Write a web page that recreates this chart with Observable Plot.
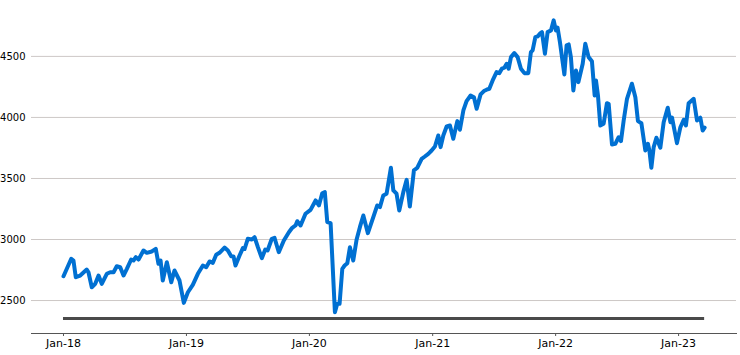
<!DOCTYPE html>
<html>
<head>
<meta charset="utf-8">
<script src="https://cdn.jsdelivr.net/npm/d3@7"></script>
<script src="https://cdn.jsdelivr.net/npm/@observablehq/plot@0.6"></script>
<style>
  html, body { margin: 0; padding: 0; background: #fff; }
</style>
</head>
<body>
<div id="chart"></div>
<script>
// Time, as decimal years
const years = [
  2018.000, 2018.063, 2018.081, 2018.100, 2018.136, 2018.189, 2018.203, 2018.230, 2018.258, 2018.285,
  2018.311, 2018.352, 2018.380, 2018.407, 2018.433, 2018.461, 2018.488, 2018.515, 2018.550, 2018.569,
  2018.588, 2018.610, 2018.650, 2018.677, 2018.718, 2018.750, 2018.772, 2018.789, 2018.807, 2018.840,
  2018.876, 2018.902, 2018.943, 2018.978, 2019.011, 2019.051, 2019.092, 2019.133, 2019.160, 2019.187,
  2019.214, 2019.241, 2019.268, 2019.309, 2019.336, 2019.363, 2019.382, 2019.398, 2019.431, 2019.458,
  2019.472, 2019.498, 2019.531, 2019.553, 2019.580, 2019.612, 2019.640, 2019.659, 2019.693, 2019.715,
  2019.750, 2019.791, 2019.832, 2019.859, 2019.886, 2019.900, 2019.927, 2019.967, 2020.008, 2020.049,
  2020.076, 2020.103, 2020.124, 2020.144, 2020.171, 2020.206, 2020.225, 2020.244, 2020.266, 2020.285,
  2020.307, 2020.328, 2020.355, 2020.382, 2020.409, 2020.437, 2020.474, 2020.518, 2020.550, 2020.572,
  2020.599, 2020.626, 2020.661, 2020.681, 2020.707, 2020.729, 2020.762, 2020.789, 2020.815, 2020.848,
  2020.876, 2020.911, 2020.937, 2020.965, 2020.992, 2021.019, 2021.046, 2021.065, 2021.087, 2021.114,
  2021.141, 2021.168, 2021.201, 2021.222, 2021.250, 2021.276, 2021.309, 2021.336, 2021.358, 2021.390,
  2021.417, 2021.439, 2021.461, 2021.488, 2021.520, 2021.542, 2021.563, 2021.583, 2021.602, 2021.618,
  2021.637, 2021.664, 2021.691, 2021.718, 2021.746, 2021.778, 2021.799, 2021.813, 2021.835, 2021.854,
  2021.872, 2021.889, 2021.913, 2021.935, 2021.962, 2021.984, 2022.002, 2022.016, 2022.035, 2022.071,
  2022.089, 2022.106, 2022.124, 2022.144, 2022.165, 2022.185, 2022.220, 2022.241, 2022.268, 2022.295,
  2022.317, 2022.328, 2022.344, 2022.363, 2022.390, 2022.417, 2022.431, 2022.458, 2022.485, 2022.512,
  2022.531, 2022.553, 2022.580, 2022.620, 2022.648, 2022.669, 2022.697, 2022.729, 2022.750, 2022.762,
  2022.778, 2022.797, 2022.819, 2022.851, 2022.878, 2022.911, 2022.933, 2022.946, 2022.986, 2023.014,
  2023.041, 2023.059, 2023.081, 2023.122, 2023.149, 2023.176, 2023.195, 2023.211
];

// Index level
const values = [
  2699, 2842, 2828, 2691, 2705, 2754, 2732, 2609, 2637, 2705,
  2637, 2719, 2732, 2732, 2781, 2773, 2705, 2760, 2836, 2828,
  2855, 2836, 2910, 2891, 2902, 2924, 2801, 2828, 2664, 2814,
  2650, 2746, 2664, 2481, 2568, 2629, 2719, 2787, 2773, 2820,
  2809, 2875, 2891, 2934, 2910, 2863, 2861, 2787, 2869, 2929,
  2922, 3006, 3000, 3019, 2937, 2847, 2918, 2910, 3006, 3014,
  2896, 2992, 3060, 3096, 3115, 3150, 3115, 3211, 3243, 3320,
  3279, 3379, 3388, 3142, 3134, 2404, 2473, 2473, 2760, 2787,
  2806, 2937, 2828, 2998, 3101, 3197, 3052, 3183, 3279, 3265,
  3361, 3375, 3588, 3402, 3375, 3238, 3388, 3489, 3270, 3566,
  3588, 3661, 3680, 3702, 3729, 3762, 3852, 3757, 3852, 3926,
  3934, 3825, 3970, 3899, 4057, 4134, 4180, 4166, 4071, 4189,
  4216, 4227, 4235, 4303, 4371, 4363, 4399, 4407, 4440, 4399,
  4494, 4527, 4494, 4399, 4363, 4363, 4535, 4549, 4658, 4664,
  4686, 4699, 4522, 4699, 4713, 4795, 4713, 4735, 4617, 4352,
  4590, 4598, 4494, 4221, 4385, 4289, 4440, 4604, 4494, 4461,
  4180, 4303, 4180, 3934, 3948, 4117, 4112, 3779, 3784, 3838,
  3806, 3975, 4153, 4276, 4166, 3970, 3953, 3729, 3784, 3729,
  3588, 3757, 3834, 3752, 3961, 4080, 3961, 3998, 3789, 3920,
  3981, 3934, 4117, 4153, 3975, 3998, 3893, 3916
];

const yTicks = [2500, 3000, 3500, 4000, 4500];
const xTickYears = [2018, 2019, 2020, 2021, 2022, 2023];
const baselineValue = 2352;

const toDate = t => new Date(Date.UTC(2018, 0, 1) + (t - 2018) * 365.25 * 864e5);
const data = years.map((t, i) => ({date: toDate(t), value: values[i]}));
const xTicks = xTickYears.map(y => new Date(Date.UTC(y, 0, 1)));
const d0 = data[0].date, dN = data[data.length - 1].date;

const chart = Plot.plot({
  width: 740,
  height: 355,
  marginLeft: 31,
  marginRight: 4,
  marginTop: 5,
  marginBottom: 22,
  style: {fontFamily: "DejaVu Sans, sans-serif", fontSize: "10px", color: "#000", background: "#fff"},
  x: {type: "utc", domain: [toDate(2017.74), toDate(2023.47)]},
  y: {domain: [2230, 4917]},
  marks: [
    Plot.ruleY(yTicks, {stroke: "#cdc8c6", strokeWidth: 1}),
    Plot.ruleY([{y: baselineValue, x1: d0, x2: dN}], {y: "y", x1: "x1", x2: "x2", stroke: "#4a4a4a", strokeWidth: 3}),
    Plot.lineY(data, {x: "date", y: "value", stroke: "#0070d2", strokeWidth: 4, strokeLinejoin: "round", strokeLinecap: "round"}),
    Plot.axisY({ticks: yTicks, tickSize: 0, tickPadding: 6, label: null, tickFormat: d => String(d)}),
    Plot.axisX({ticks: xTicks, tickSize: 3, tickPadding: 3, label: null, tickFormat: d3.utcFormat("%b-%y"), stroke: "#555", fontSize: 11}),
    Plot.frame({anchor: "bottom", stroke: "#555", strokeWidth: 1})
  ]
});
document.getElementById("chart").appendChild(chart);
</script>
</body>
</html>
